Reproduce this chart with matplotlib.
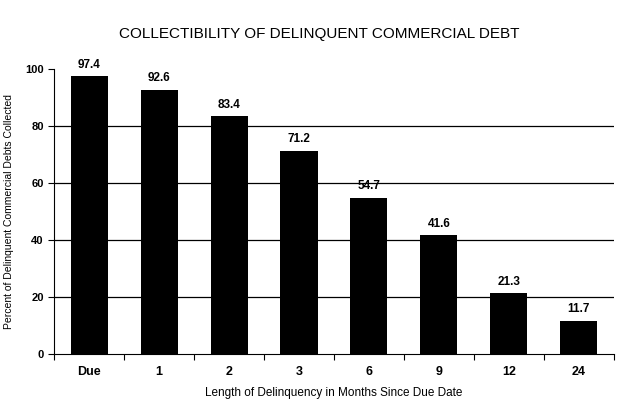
import matplotlib
matplotlib.use("Agg")
import matplotlib.pyplot as plt

categories = ["Due", "1", "2", "3", "6", "9", "12", "24"]
collected = [97.4, 92.6, 83.4, 71.2, 54.7, 41.6, 21.3, 11.7]
yticks = [0, 20, 40, 60, 80, 100]

plt.rcParams["font.family"] = ["Liberation Sans", "DejaVu Sans"]

fig = plt.figure(figsize=(6.38, 4.15), dpi=100)
ax = fig.add_axes([0.085, 0.147, 0.877, 0.687])

x = list(range(len(categories)))
bars = ax.bar(x, collected, width=0.53, color="black", zorder=3)
for b, v in zip(bars, collected):
    ax.text(b.get_x() + b.get_width() / 2, v + 2, f"{v}", ha="center",
            va="bottom", fontsize=8.5, fontweight="bold")

ax.set_xlim(-0.5, len(categories) - 0.5)
ax.set_ylim(0, 100)
ax.set_yticks(yticks)
ax.set_yticklabels([str(t) for t in yticks], fontsize=8, fontweight="bold")
# gridlines only inside, none at 0 or 100
for t in yticks[1:-1]:
    ax.axhline(t, color="black", lw=0.9, zorder=1)

# ticks sit between the categories, labels under the bars
ax.set_xticks([i + 0.5 for i in range(-1, len(categories))], minor=False)
ax.set_xticklabels([])
ax.set_xticks(x, minor=True)
ax.set_xticklabels(categories, minor=True, fontsize=9, fontweight="bold")
ax.tick_params(axis="x", which="minor", length=0, pad=9)
ax.tick_params(axis="x", which="major", length=4, direction="out")
ax.tick_params(axis="y", length=4, direction="out")

ax.spines["top"].set_visible(False)
ax.spines["right"].set_visible(False)

ax.set_xlabel("Length of Delinquency in Months Since Due Date", fontsize=8.5,
              labelpad=6)
ax.set_ylabel("Percent of Delinquent Commercial Debts Collected", fontsize=7.5,
              labelpad=8)
fig.suptitle("COLLECTIBILITY OF DELINQUENT COMMERCIAL DEBT", fontsize=11,
             y=0.935)

fig.savefig("out.png", dpi=100)
